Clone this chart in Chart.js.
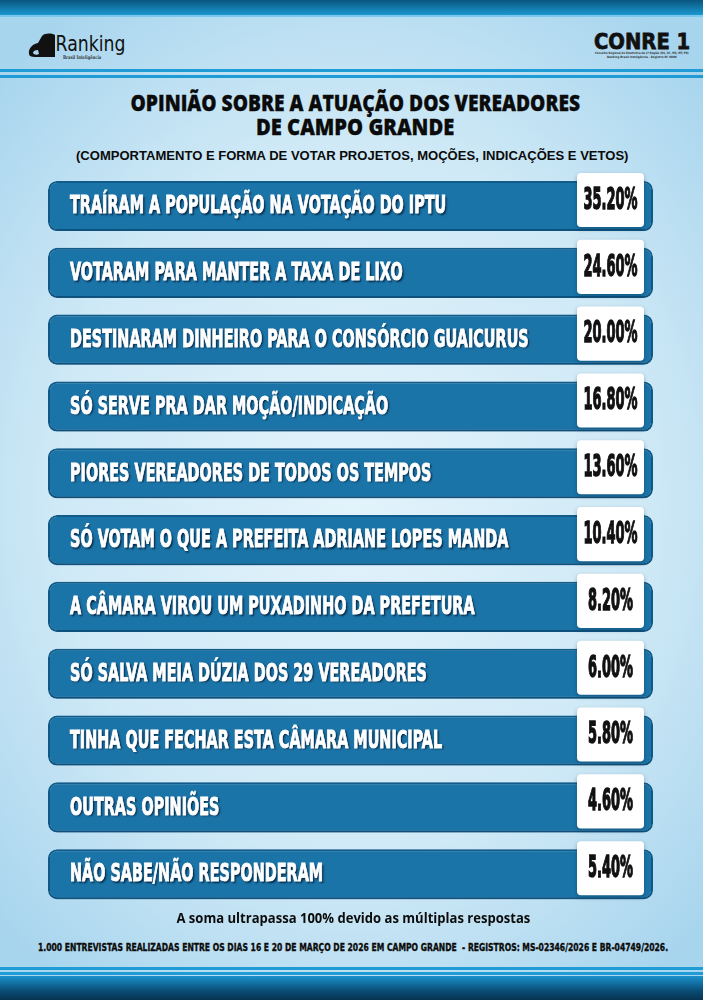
<!DOCTYPE html>
<html>
<head>
<meta charset="utf-8">
<script src="https://cdn.jsdelivr.net/npm/chart.js@4.4.1/dist/chart.umd.min.js"></script>
<style>
html, body { margin: 0; padding: 0; }
body {
    width: 703px; height: 1000px; position: relative; overflow: hidden;
    background: radial-gradient(ellipse 70% 60% at 50% 50%, #e2f3fb 0%, #cfe9f6 60%, #a8d5ee 100%);
    font-family: 'DejaVu Sans', sans-serif;
}
.band-top { position: absolute; left: 0; top: 0; width: 703px; height: 15px;
    background: linear-gradient(#09557f, #1b98d0); border-bottom: 2px solid #7cc8ec; }
.band-bottom { position: absolute; left: 0; top: 976px; width: 703px; height: 24px;
    background: linear-gradient(#1a92cc, #0a4e78 60%, #06334f); }
.line { position: absolute; left: 0; width: 703px; height: 3px; background: #1f9bd6; }
.txt { position: absolute; white-space: nowrap; transform-origin: center center; line-height: 1; }
#chartBox { position: absolute; left: 0; top: 160px; }
</style>
</head>
<body>
<div class="band-top"></div>
<div class="line" style="top:69px"></div>
<div class="line" style="top:75px"></div>
<div class="line" style="top:967px"></div>
<div class="line" style="top:972px"></div>
<div class="band-bottom"></div>

<!-- logos -->
<svg style="position:absolute;left:27px;top:32px" width="30" height="26" viewBox="0 0 30 26">
  <path d="M2 22 C1 16 6 12 11 11 L15 4 C18 1 24 1 28 3 L28 25 L8 25 C4 25 2 24 2 22 Z M6 21 C7 23 10 23 12 22 L11 18 C8 18 6 19 6 21 Z" fill="#111"/>
</svg>
<div class="txt" data-cx="90" data-cy="44" data-w="70" style="font:21px 'DejaVu Sans',sans-serif;color:#111">Ranking</div>
<div class="txt" data-cx="82" data-cy="57" data-w="38" style="font:bold 5px 'DejaVu Serif',serif;color:#333">Brasil Inteligência</div>
<div class="txt" data-cx="642" data-cy="41" data-w="96" style="font:900 22px 'DejaVu Sans',sans-serif;color:#111;-webkit-text-stroke:0.8px #111">CONRE 1</div>
<div class="txt" data-cx="642" data-cy="53" data-w="94" style="font:bold 3px 'DejaVu Sans',sans-serif;color:#333">Conselho Regional de Estatística da 1ª Região (RS, SC, MS, MT, PR)</div>
<div class="txt" data-cx="642" data-cy="57" data-w="70" style="font:bold 3px 'DejaVu Sans',sans-serif;color:#333">Ranking Brasil Inteligência - Registro Nº 0000</div>

<!-- titles -->
<div class="txt" data-cx="355" data-cy="102" data-w="450" style="font:800 22px 'Open Sans',sans-serif;color:#0b0b0b;-webkit-text-stroke:0.3px #0b0b0b">OPINIÃO SOBRE A ATUAÇÃO DOS VEREADORES</div>
<div class="txt" data-cx="355" data-cy="126" data-w="198" style="font:800 22px 'Open Sans',sans-serif;color:#0b0b0b;-webkit-text-stroke:0.3px #0b0b0b">DE CAMPO GRANDE</div>
<div class="txt" data-cx="352" data-cy="156" data-w="553" style="font:bold 12px 'Liberation Sans',Arial,sans-serif;color:#0b0b0b">(COMPORTAMENTO E FORMA DE VOTAR PROJETOS, MOÇÕES, INDICAÇÕES E VETOS)</div>

<div id="chartBox"><canvas id="myChart" width="703" height="760"></canvas></div>

<!-- footer -->
<div class="txt" data-cx="353" data-cy="917" data-w="354" style="font:bold 15px 'Open Sans',sans-serif;color:#0b0b0b">A soma ultrapassa 100% devido as múltiplas respostas</div>
<div class="txt" data-cx="353" data-cy="947" data-w="630" style="font:bold 11px 'DejaVu Sans',sans-serif;color:#0b0b0b;-webkit-text-stroke:0.4px #0b0b0b">1.000 ENTREVISTAS REALIZADAS ENTRE OS DIAS 16 E 20 DE MARÇO DE 2026 EM CAMPO GRANDE &nbsp;- REGISTROS: MS-02346/2026 E BR-04749/2026.</div>

<script>
var categories = [
    "TRAÍRAM A POPULAÇÃO NA VOTAÇÃO DO IPTU",
    "VOTARAM PARA MANTER A TAXA DE LIXO",
    "DESTINARAM DINHEIRO PARA O CONSÓRCIO GUAICURUS",
    "SÓ SERVE PRA DAR MOÇÃO/INDICAÇÃO",
    "PIORES VEREADORES DE TODOS OS TEMPOS",
    "SÓ VOTAM O QUE A PREFEITA ADRIANE LOPES MANDA",
    "A CÂMARA VIROU UM PUXADINHO DA PREFETURA",
    "SÓ SALVA MEIA DÚZIA DOS 29 VEREADORES",
    "TINHA QUE FECHAR ESTA CÂMARA MUNICIPAL",
    "OUTRAS OPINIÕES",
    "NÃO SABE/NÃO RESPONDERAM"
];
var values = [35.20, 24.60, 20.00, 16.80, 13.60, 10.40, 8.20, 6.00, 5.80, 4.60, 5.40];
// every banner runs the full width in the poster, the percentage sits in the white box
var bannerSpan = [1, 1, 1, 1, 1, 1, 1, 1, 1, 1, 1];

// squeeze the header/footer texts to the widths of the poster
document.querySelectorAll(".txt").forEach(function (el) {
    var w = el.offsetWidth, h = el.offsetHeight;
    el.style.left = (Number(el.dataset.cx) - w / 2) + "px";
    el.style.top = (Number(el.dataset.cy) - h / 2) + "px";
    el.style.transform = "scaleX(" + (Number(el.dataset.w) / w) + ")";
});

var labelFont = "bold 24px 'DejaVu Sans Condensed', 'DejaVu Sans', sans-serif";
var valueFont = "bold 30px 'DejaVu Sans Condensed', 'DejaVu Sans', sans-serif";

function roundRect(c, x, y, w, h, r) {
    c.beginPath();
    c.moveTo(x + r, y);
    c.arcTo(x + w, y, x + w, y + h, r);
    c.arcTo(x + w, y + h, x, y + h, r);
    c.arcTo(x, y + h, x, y, r);
    c.arcTo(x, y, x + w, y, r);
    c.closePath();
}

var bannerPlugin = {
    id: "banners",
    beforeDatasetsDraw: function (chart) {
        var c = chart.ctx;
        c.save();
        c.shadowColor = "rgba(10,55,90,0.45)";
        c.shadowBlur = 7;
        c.shadowOffsetY = 3;
    },
    afterDatasetsDraw: function (chart) {
        var c = chart.ctx;
        c.restore();
        var bars = chart.getDatasetMeta(0).data;

        c.save();
        c.font = labelFont;
        var labelSx = 357 / c.measureText(categories[7]).width;
        c.font = valueFont;
        var valueSx = 45 / c.measureText("6.00%").width;
        c.restore();

        bars.forEach(function (bar, i) {
            // category text inside the banner
            c.save();
            c.translate(bar.base + 22, bar.y + 1);
            c.scale(labelSx, 1);
            c.font = labelFont;
            c.textBaseline = "middle";
            c.shadowColor = "rgba(0,25,50,0.85)";
            c.shadowOffsetX = 1.5;
            c.shadowOffsetY = 1.5;
            c.shadowBlur = 2;
            c.fillStyle = "#ffffff";
            c.fillText(categories[i], 0, 0);
            c.shadowColor = "transparent";
            c.strokeStyle = "#ffffff";
            c.lineWidth = 0.9;
            c.strokeText(categories[i], 0, 0);
            c.restore();

            // white value box
            var bw = 67, bh = bar.height + 4;
            var bx = bar.x - 9 - bw, by = bar.y - bar.height / 2 - 8;
            c.save();
            c.shadowColor = "rgba(0,40,70,0.35)";
            c.shadowBlur = 4;
            c.shadowOffsetY = 2;
            c.fillStyle = "#ffffff";
            roundRect(c, bx, by, bw, bh, 4);
            c.fill();
            c.restore();

            c.save();
            c.translate(bx + bw / 2, by + bh / 2 + 1);
            c.scale(valueSx, 1);
            c.font = valueFont;
            c.textAlign = "center";
            c.textBaseline = "middle";
            c.fillStyle = "#111111";
            c.strokeStyle = "#111111";
            c.lineWidth = 1.4;
            var txt = values[i].toFixed(2) + "%";
            c.fillText(txt, 0, 0);
            c.strokeText(txt, 0, 0);
            c.restore();
        });
    }
};

var ctx = document.getElementById("myChart");
var myChart = new Chart(ctx, {
    type: "bar",
    data: {
        labels: categories,
        datasets: [{
            data: bannerSpan,
            backgroundColor: "#1b74a7",
            borderColor: "#125f8e",
            borderWidth: 2,
            borderRadius: 9,
            borderSkipped: false,
            categoryPercentage: 1,
            barPercentage: 0.75,
            clip: false
        }]
    },
    options: {
        indexAxis: "y",
        responsive: false,
        animation: false,
        layout: { padding: { left: 48, right: 50, top: 12.6, bottom: 12.4 } },
        scales: {
            x: { display: false, min: 0, max: 1 },
            y: { display: false }
        },
        plugins: {
            legend: { display: false },
            tooltip: { enabled: false }
        }
    },
    plugins: [bannerPlugin]
});
</script>
</body>
</html>
